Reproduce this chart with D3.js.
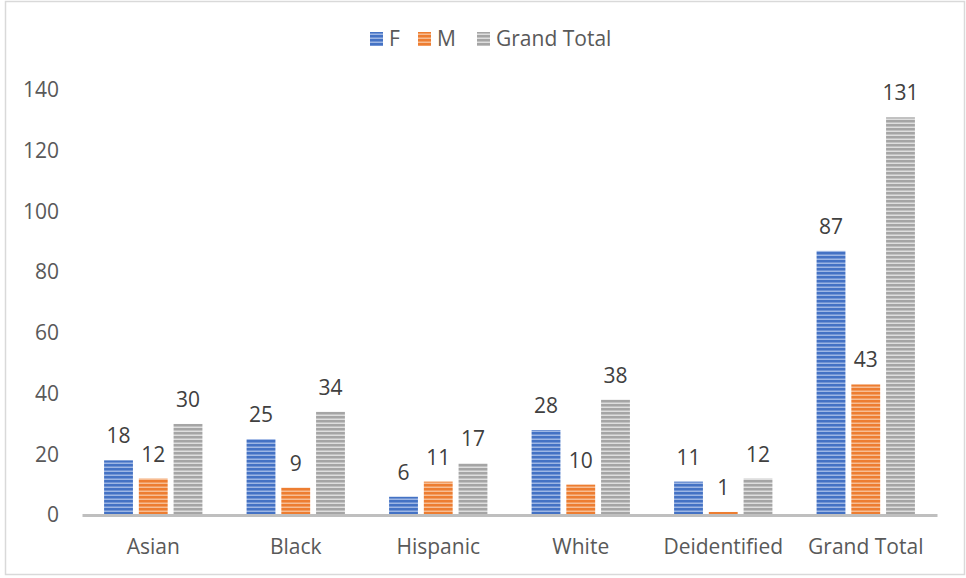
<!DOCTYPE html>
<html>
<head>
<meta charset="utf-8">
<script src="https://cdn.jsdelivr.net/npm/d3@7"></script>
<style>
  html, body { margin: 0; padding: 0; background: #fff; }
  svg text { font-family: "Open Sans", Lato, sans-serif; }
</style>
</head>
<body>
<div class="outer-container"></div>
<script>
const categories = ['Asian', 'Black', 'Hispanic', 'White', 'Deidentified', 'Grand Total']
const seriesNames = ['F', 'M', 'Grand Total']
const valuesF = [18, 25, 6, 28, 11, 87]
const valuesM = [12, 9, 11, 10, 1, 43]
const valuesTotal = [30, 34, 17, 38, 12, 131]
const yTicks = [0, 20, 40, 60, 80, 100, 120, 140]

const w = 966
const h = 578
const plot = { left: 82, right: 937, top: 90, bottom: 515 }
const font = '"Open Sans", Lato, sans-serif'
const fontSize = '21px'

const colors = [
  { dark: '#4472c4', light: '#9db6e4' },
  { dark: '#ed7d31', light: '#f7bd93' },
  { dark: '#a5a5a5', light: '#dedede' }
]

const series = [valuesF, valuesM, valuesTotal]

const svg = d3.select('.outer-container')
  .append('svg')
  .attr('width', w)
  .attr('height', h)

// striped fills
const defs = svg.append('defs')
colors.forEach((c, i) => {
  const p = defs.append('pattern')
    .attr('id', 'stripe' + i)
    .attr('patternUnits', 'userSpaceOnUse')
    .attr('width', 8)
    .attr('height', 4)
  p.append('rect').attr('width', 8).attr('height', 4).attr('fill', c.dark)
  p.append('rect').attr('y', 2.5).attr('width', 8).attr('height', 1.5).attr('fill', c.light)
})

svg.append('rect')
  .attr('x', 5.5)
  .attr('y', 1.5)
  .attr('width', 959)
  .attr('height', 573)
  .attr('fill', '#fff')
  .attr('stroke', '#d9d9d9')
  .attr('stroke-width', 1.5)

const xScale = d3.scaleBand()
  .domain(categories)
  .range([plot.left, plot.right])
  .paddingInner(0.31)
  .paddingOuter(0.155)

const xSub = d3.scaleBand()
  .domain(d3.range(seriesNames.length))
  .range([0, xScale.bandwidth()])
  .paddingInner(0.17)

const yScale = d3.scaleLinear()
  .domain([0, 140])
  .range([plot.bottom, plot.top])

// y tick labels (no gridlines)
const yAxis = d3.axisLeft(yScale)
  .tickValues(yTicks)
  .tickSize(0)
  .tickPadding(0)

svg.append('g')
  .attr('transform', 'translate(59, 0)')
  .call(yAxis)
  .call(g => g.select('.domain').remove())
  .selectAll('text')
    .attr('font-size', fontSize)
    .attr('fill', '#595959')
    .attr('font-family', font)

// bars
series.forEach((vals, si) => {
  const g = svg.append('g')
  g.selectAll('rect')
    .data(vals)
    .enter()
    .append('rect')
      .attr('x', (d, i) => xScale(categories[i]) + xSub(si))
      .attr('y', d => yScale(d))
      .attr('width', xSub.bandwidth())
      .attr('height', d => yScale(0) - yScale(d))
      .attr('fill', 'url(#stripe' + si + ')')

  g.selectAll('text')
    .data(vals)
    .enter()
    .append('text')
      .attr('x', (d, i) => xScale(categories[i]) + xSub(si) + xSub.bandwidth() / 2)
      .attr('y', d => yScale(d) - 17)
      .attr('text-anchor', 'middle')
      .attr('font-size', fontSize)
      .attr('font-family', font)
      .attr('fill', '#404040')
      .text(d => d)
})

// x axis
const xAxis = d3.axisBottom(xScale)
  .tickSize(0)
  .tickPadding(24)

svg.append('g')
  .attr('transform', 'translate(0, ' + plot.bottom + ')')
  .call(xAxis)
  .call(g => g.select('.domain')
    .attr('stroke', '#bfbfbf')
    .attr('stroke-width', 3))
  .selectAll('text')
    .attr('font-size', fontSize)
    .attr('fill', '#595959')
    .attr('font-family', font)

// legend
const legendX = [370, 418, 477]
const legend = svg.append('g')
  .selectAll('g')
  .data(seriesNames)
  .enter()
  .append('g')
    .attr('transform', (d, i) => 'translate(' + legendX[i] + ', 39)')

legend.append('rect')
  .attr('x', 0)
  .attr('y', -7)
  .attr('width', 13)
  .attr('height', 14)
  .attr('fill', (d, i) => 'url(#stripe' + i + ')')

legend.append('text')
  .attr('x', 19)
  .attr('y', 0)
  .attr('dy', '0.35em')
  .attr('font-size', fontSize)
  .attr('font-family', font)
  .attr('fill', '#595959')
  .text(d => d)
</script>
</body>
</html>
